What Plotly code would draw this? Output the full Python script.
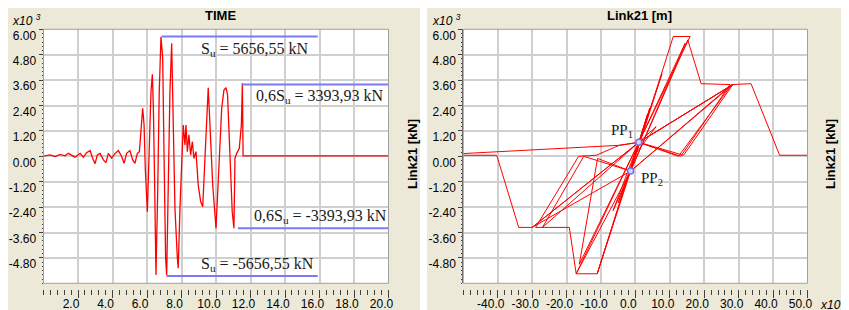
import plotly.graph_objects as go

# ---------------- data ----------------
# Left panel: force time history (x10^3 kN) vs time (s)
time_s = [0.0, 0.09, 0.38, 0.67, 0.96, 1.25, 1.44, 1.63, 1.83, 2.12, 2.31, 2.50,
          2.70, 2.85, 2.99, 3.12, 3.28, 3.47, 3.62, 3.76, 3.95, 4.15, 4.34, 4.53,
          4.67, 4.82, 5.01, 5.17, 5.30, 5.44, 5.56, 5.65, 5.75, 5.83, 5.90, 6.02,
          6.13, 6.23, 6.31, 6.37, 6.45, 6.52, 6.62, 6.71, 6.81, 6.91, 6.99, 7.08,
          7.14, 7.24, 7.33, 7.43, 7.53, 7.62, 7.76, 7.81, 7.91, 8.05, 8.10, 8.20,
          8.26, 8.34, 8.43, 8.53, 8.63, 8.72, 8.84, 8.97, 9.11, 9.23, 9.36, 9.50,
          9.55, 9.65, 9.81, 10.0, 10.13, 10.33, 10.46, 10.58, 10.67, 10.81, 10.94,
          11.04, 11.10, 11.20, 11.35, 11.47, 11.53, 11.57, 20.0]
force_t = [0.02, 0.02, 0.07, -0.01, 0.09, 0.02, 0.14, 0.07, -0.04, 0.14, -0.04, 0.17,
           0.27, -0.09, -0.35, 0.07, 0.14, -0.17, -0.30, 0.14, -0.09, 0.14, 0.27, -0.01,
           -0.33, 0.14, 0.27, -0.17, -0.33, 0.14, 0.22, 1.20, 2.27, 1.48, -0.57, -2.62,
           -0.10, 3.05, 3.87, 2.27, -1.67, -5.61, -1.67, 3.05, 5.65, 4.63, -0.10, -4.82,
           -5.61, -0.88, 3.05, 5.34, 1.48, -2.46, -4.82, -5.29, -2.46, 0.85, 1.48, 0.54,
           1.48, 0.22, 1.01, 0.07, 0.69, -0.10, 0.22, -1.36, -2.14, -2.38, 0.22, 3.05,
           3.24, 1.48, -1.36, -3.40, -0.88, 2.27, 3.13, 3.24, 2.90, -0.10, -2.62,
           -3.40, -0.10, 0.14, 0.38, 1.48, 3.45, 0.02, 0.02]

# Reference levels (x10^3 kN) and their time spans
ref_level = [5.65655, 3.39393, -3.39393, -5.65655]
ref_t0 = [6.84, 11.49, 11.27, 7.13]
ref_t1 = [15.9, 20.0, 20.0, 15.9]
ref_text = ["S<sub>u</sub> = 5656,55 kN", "0,6S<sub>u</sub> = 3393,93 kN",
            "0,6S<sub>u</sub> = -3393,93 kN", "S<sub>u</sub> = -5656,55 kN"]
ref_text_t = [12.26, 16.0, 16.05, 12.4]

# Right panel: hysteresis, displacement (x10^-3 m) vs force (x10^3 kN)
disp = [0.0, 4.2, 1.0, -6.5, -1.4, 7.7, 1.0, -11.1, -1.4, 11.0, 15.9, 1.0,
        -11.1, -17.2, -1.4, 14.5, 1.0, -16.3, -11.0, -1.4, 3.5, 1.0, 6.0, 0.0,
        -5.0, -1.4, 15.2, 19.1, 27.5, 13.2, 1.0, -17.2, -19.2, -29.0, -16.5,
        -11.4, -4.65, 1.0, 28.3, 14.0, 1.0, -30.0, -1.4, 28.0, 12.5, 1.0, -27.0,
        -15.0, -1.4, 28.3, 1.0, -30.0,
        -33.9, -40.3, -50.0, -50.0, -4.65, 1.0, 28.3, 33.6, 41.9, 50.0]
force_h = [0.0, 2.29, 0.66, -2.57, -0.7, 3.89, 0.66, -5.55, -0.7, 5.66, 5.66,
           0.66, -5.55, -5.55, -0.7, 5.35, 0.66, -5.1, -0.1, -0.7, 1.98, 0.66,
           1.4, 0.1, -2.2, -0.7, 5.5, 3.43, 3.39, 0.0, 0.66, -5.55, -3.36, -3.36,
           0.0, 0.05, 0.52, 0.66, 3.39, 0.05, 0.66, -3.36, -0.7, 3.39, 0.0, 0.66, -3.36,
           0.0, -0.7, 3.39, 0.66, -3.36,
           -3.36, 0.05, 0.05, 0.13, 0.52, 0.66, 3.39, 3.43, 0.05, 0.05]

pp_x = [1.0, -1.4]
pp_y = [0.66, -0.7]
pp_text = ["PP<sub>1</sub>", "PP<sub>2</sub>"]
pp_text_x = [-4.0, 4.9]
pp_text_y = [1.19, -1.08]

y_tickvals = [6.0, 4.8, 3.6, 2.4, 1.2, 0.0, -1.2, -2.4, -3.6, -4.8]
y_ticktext = ["6.00", "4.80", "3.60", "2.40", "1.20", "0.00", "-1.20", "-2.40", "-3.60", "-4.80"]
t_tickvals = [2, 4, 6, 8, 10, 12, 14, 16, 18, 20]
t_ticktext = ["2.0", "4.0", "6.0", "8.0", "10.0", "12.0", "14.0", "16.0", "18.0", "20.0"]
d_tickvals = [-40, -30, -20, -10, 0, 10, 20, 30, 40, 50]
d_ticktext = ["-40.0", "-30.0", "-20.0", "-10.0", "0.0", "10.0", "20.0", "30.0", "40.0", "50.0"]

# ---------------- figure ----------------
# The page body has an 8px margin, so the figure is placed at (8, 8)
OFF = 8
W, H = 849 - OFF, 310 - OFF
BEIGE = "#ece9d8"
GRID = "#cfcfcf"
TICKFONT = dict(family="Liberation Sans, Arial", size=12, color="#000000")


def px_x(p):
    return (p - OFF) / W


def px_y(p):
    return 1 - (p - OFF) / H


fig = go.Figure()
fig.add_trace(go.Scatter(x=time_s, y=force_t, mode="lines",
                         line=dict(color="#ff0000", width=1.3),
                         xaxis="x", yaxis="y", hoverinfo="skip"))
fig.add_trace(go.Scatter(x=disp, y=force_h, mode="lines",
                         line=dict(color="#ff0000", width=1),
                         xaxis="x2", yaxis="y2", hoverinfo="skip"))
fig.add_trace(go.Scatter(x=pp_x, y=pp_y, mode="markers",
                         marker=dict(symbol="circle", size=6, color="#d8d8ff",
                                     line=dict(color="#7070ff", width=1.5)),
                         xaxis="x2", yaxis="y2", hoverinfo="skip"))

ydom = [px_y(283.3), px_y(29.3)]
xdom1 = [px_x(43.5), px_x(388.5)]
xdom2 = [px_x(463.3), px_x(807.5)]
xpos = px_y(289)


def xaxis_cfg(dom, rng, tv, tt, minor_dt):
    return dict(domain=dom, range=rng, anchor="free", position=xpos,
                automargin=False, showline=False, zeroline=False,
                showgrid=True, gridcolor=GRID, gridwidth=1.5,
                tickmode="array", tickvals=tv, ticktext=tt,
                ticks="outside", ticklen=8, tickwidth=1, tickcolor="#404040",
                ticklabelshift=-7, ticklabelstandoff=-4, tickfont=TICKFONT,
                minor=dict(dtick=minor_dt, ticks="outside", ticklen=5,
                           tickwidth=1, tickcolor="#404040", showgrid=False),
                fixedrange=True)


def yaxis_cfg(dom, anchor_x):
    return dict(domain=dom, range=[-6, 6], anchor=anchor_x, automargin=False,
                showline=True, linecolor="#606060", linewidth=1,
                zeroline=False, showgrid=True, gridcolor=GRID, gridwidth=1.5,
                tickmode="array", tickvals=y_tickvals, ticktext=y_ticktext,
                ticks="outside", ticklen=4, tickwidth=1, tickcolor="#404040",
                ticklabelshift=6, tickfont=TICKFONT,
                minor=dict(dtick=0.2, ticks="outside", ticklen=1,
                           tickwidth=1, tickcolor="#404040", showgrid=False),
                fixedrange=True)


fig.update_layout(
    template="none",
    width=W, height=H, margin=dict(l=0, r=0, t=0, b=0, pad=0), autosize=False,
    paper_bgcolor=BEIGE, plot_bgcolor="#ffffff", showlegend=False,
    xaxis=xaxis_cfg(xdom1, [0, 20], t_tickvals, t_ticktext, 0.4),
    yaxis=yaxis_cfg(ydom, "x"),
    xaxis2=xaxis_cfg(xdom2, [-50, 50], d_tickvals, d_ticktext, 2),
    yaxis2=yaxis_cfg(ydom, "x2"),
)

shapes = []
# white gap between the two panels
shapes.append(dict(type="rect", xref="paper", yref="paper",
                   x0=px_x(420), x1=px_x(427), y0=0, y1=1,
                   line=dict(width=0), fillcolor="#ffffff", layer="above"))
# plot frames
for xr, yr in [("x", "y"), ("x2", "y2")]:
    shapes.append(dict(type="rect", xref=xr + " domain", yref=yr + " domain",
                       x0=0, x1=1, y0=0, y1=1,
                       line=dict(color="#a0a0a0", width=1), layer="above"))
# reference lines
for lev, a, b in zip(ref_level, ref_t0, ref_t1):
    shapes.append(dict(type="line", xref="x", yref="y", x0=a, x1=b, y0=lev, y1=lev,
                       line=dict(color="#7b7bf5", width=2), layer="above"))
fig.update_layout(shapes=shapes)

ann = []
SERIF = dict(family="Liberation Serif, Times New Roman", size=16, color="#1a1a1a")
for txt, tx, lev in zip(ref_text, ref_text_t, ref_level):
    above = lev < 0
    ann.append(dict(text=txt, x=tx, y=lev, xref="x", yref="y", showarrow=False,
                    xanchor="center", yanchor="bottom" if above else "top",
                    yshift=0 if above else -1, font=SERIF))
for txt, tx, ty in zip(pp_text, pp_text_x, pp_text_y):
    ann.append(dict(text=txt, x=tx, y=ty, xref="x2", yref="y2", showarrow=False,
                    xanchor="center", yanchor="middle",
                    font=dict(family="Liberation Serif, Times New Roman", size=15,
                              color="#1a1a1a")))
BOLD = dict(family="Liberation Sans, Arial", size=13, color="#000000")
ann.append(dict(text="<b>TIME</b>", x=px_x(220), y=px_y(15), xref="paper", yref="paper",
                showarrow=False, xanchor="center", yanchor="middle", font=BOLD))
ann.append(dict(text="<b>Link21 [m]</b>", x=px_x(639), y=px_y(15), xref="paper", yref="paper",
                showarrow=False, xanchor="center", yanchor="middle", font=BOLD))
for xc in (412, 830):
    ann.append(dict(text="<b>Link21 [kN]</b>", x=px_x(xc), y=px_y(154), xref="paper",
                    yref="paper", showarrow=False, xanchor="center", yanchor="middle",
                    textangle=-90, font=BOLD))
EXP = dict(family="Liberation Sans, Arial", size=12, color="#000000")
for xc in (26, 446):
    ann.append(dict(text="<i>x10 <sup>3</sup></i>", x=px_x(xc), y=px_y(20), xref="paper",
                    yref="paper", showarrow=False, xanchor="center", yanchor="middle",
                    font=EXP))
ann.append(dict(text="<i>x10 <sup>-3</sup></i>", x=px_x(818), y=px_y(304), xref="paper",
                yref="paper", showarrow=False, xanchor="left", yanchor="middle",
                font=EXP))
fig.update_layout(annotations=ann)

fig.write_html("out.html")
